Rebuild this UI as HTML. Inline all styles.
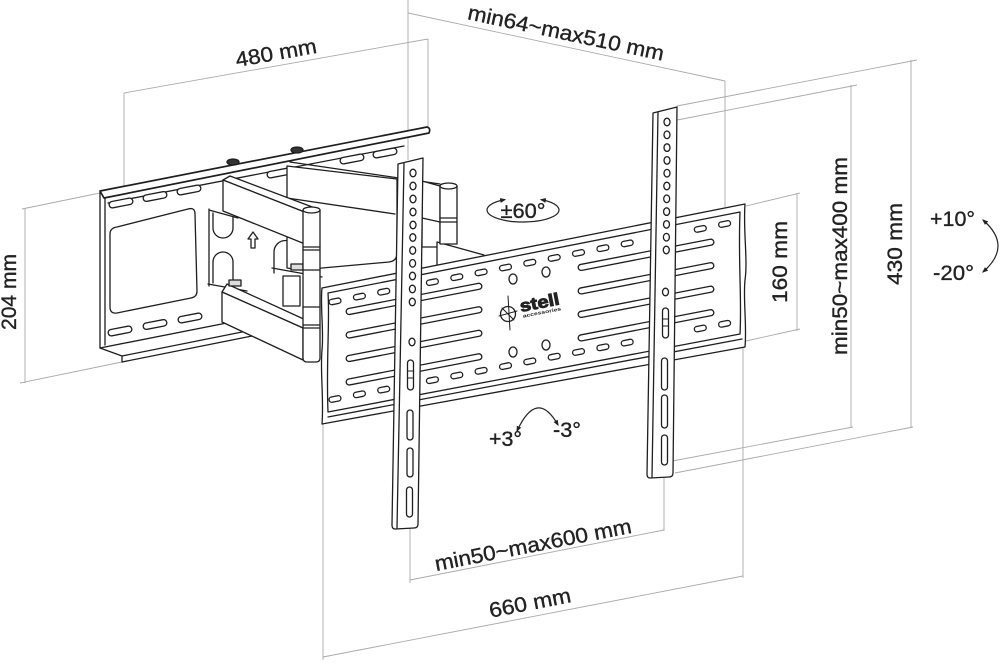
<!DOCTYPE html>
<html><head><meta charset="utf-8"><style>
html,body{margin:0;padding:0;background:#fff;}
svg{display:block;}
text{font-family:"Liberation Sans",Arial,sans-serif;fill:#222;}
</style></head><body>
<svg width="1000" height="664" viewBox="0 0 1000 664" xmlns="http://www.w3.org/2000/svg">
<defs>
<marker id="ah" viewBox="0 0 10 10" refX="8" refY="5" markerWidth="5" markerHeight="5" orient="auto-start-reverse"><path d="M0,1 L10,5 L0,9 Z" fill="#222"/></marker>
</defs>
<rect width="1000" height="664" fill="#fff"/>

<!-- dimension lines -->
<g stroke="#aaaaaa" stroke-width="0.9" fill="none">
<path d="M22,209 L100,193 M25,209 L25,383 M20,383 L122,362"/>
<path d="M124,93 L428,39 M124,93 L124,190 M428,39 L428,128"/>
<path d="M408,0 L408,160 M408,13 L725,81 M725,81 L725,207"/>
<path d="M746,206 L800,193 M797,193 L797,331 M746,341 L800,329"/>
<path d="M672,121 L857,85 M851,85 L851,428 M667,462 L853,427"/>
<path d="M677,106 L917,60 M911,60 L911,428 M675,473 L913,427"/>
<path d="M410,528 L410,583 M664,478 L664,531 M410,580 L664,530"/>
<path d="M323,424 L323,660 M743,347 L743,578 M323,657 L743,576"/>
</g>

<g stroke="#1e1e1e" stroke-width="1.3" fill="#fff" stroke-linejoin="round" stroke-linecap="round">
<!-- wall plate -->
<path d="M100,193 L340,147 L340,300 L100,348 Z" stroke="none"/>
<path d="M100,192 L100,348 M105,197 L105,345" fill="none"/>
<path d="M100,348 L252,318 L252,336 L122,362 L122,356 Z"/>
<path d="M122,356 L252,330" fill="none"/>
<path d="M108,203 L404,146" fill="none"/>
<path d="M100,191 L427,127 Q431,128 429,133 L104,198 Z" stroke-width="1.7"/>
<path d="M117,227 L188,209 Q195,207 195,214 L197,291 Q197,297 191,298 L117,313 Q110,314 110,307 L110,234 Q110,228 117,227 Z"/>
<g>
<rect x="-12" y="-3.2" width="24" height="6.4" rx="3.2" transform="translate(121,203) rotate(-11)"/>
<rect x="-12" y="-3.2" width="24" height="6.4" rx="3.2" transform="translate(155,196.5) rotate(-11)"/>
<rect x="-12" y="-3.2" width="24" height="6.4" rx="3.2" transform="translate(189,190) rotate(-11)"/>
<rect x="-12" y="-3.2" width="24" height="6.4" rx="3.2" transform="translate(279,173) rotate(-11)"/>
<rect x="-12" y="-3.2" width="24" height="6.4" rx="3.2" transform="translate(352,159) rotate(-11)"/>
<rect x="-12" y="-3.2" width="24" height="6.4" rx="3.2" transform="translate(385,153) rotate(-11)"/>
<rect x="-12" y="-3.2" width="24" height="6.4" rx="3.2" transform="translate(120,331) rotate(-11)"/>
<rect x="-12" y="-3.2" width="24" height="6.4" rx="3.2" transform="translate(155,324.5) rotate(-11)"/>
<rect x="-12" y="-3.2" width="24" height="6.4" rx="3.2" transform="translate(190,318) rotate(-11)"/>
</g>
<path d="M209,209 L209,286 M209,210 L238,218" fill="none"/>
<path d="M213,213 L213,228 A10,10 0 0 0 233,228 L233,217" fill="none"/>
<path d="M213,283 L213,262 A10,10 0 0 1 233,262 L233,287" fill="none"/>
<path d="M274,273 L274,252 A11.5,11.5 0 0 1 297,252 L297,268" fill="none"/>
<path d="M253,232 L258,239 L255,239 L255,248 L251,248 L251,239 L248,239 Z"/>
<ellipse cx="233" cy="162" rx="6" ry="3" fill="#333"/>
<ellipse cx="297" cy="150" rx="6" ry="3" fill="#333"/>

<!-- arm 2 box (behind) -->
<path d="M287,166 L397,179 L397,253 Q397,261 389,262 L300,270 L287,268 Z"/>
<path d="M290,162 L440,184 M397,181 L423,184 M287,198 L395,214" fill="none"/>
<path d="M422,181 L440,186 L440,247 L422,247 Z"/>
<path d="M422,218 L440,222" fill="none"/>
<path d="M437,242 L484,255 L484,272 L437,272 Z"/>
<rect x="440" y="186" width="17" height="58"/>
<ellipse cx="448.5" cy="186" rx="8.5" ry="3"/>
<path d="M440,218 L457,218 M440,222 L457,222" fill="none"/>

<!-- lower ledge parts -->
<path d="M272,268 L322,277" fill="none"/>
<rect x="283" y="276" width="17" height="30"/>
<path d="M291,264 L303,264 L303,270 L291,270 Z" fill="#ddd"/>
<path d="M208,284 L247,291" fill="none"/>

<!-- arm 1 upper -->
<path d="M223,180 L230,176 L315,208 L307,213 Z"/>
<path d="M223,180 L307,213 L305,244 L223,211 Z"/>
<!-- arm 1 lower -->
<path d="M222,292 L227,284 L308,321 L303,328 Z"/>
<path d="M222,292 L303,328 L303,360 L222,322 Z"/>
<path d="M229,280 L241,280 L241,286 L229,286 Z" fill="#ddd"/>
<!-- hinge 1 -->
<path d="M303,210 L320,210 L320,358 Q320,362 316,362 L307,362 Q303,362 303,358 Z"/>
<ellipse cx="311.5" cy="210" rx="8.5" ry="3"/>
<path d="M303,247 L320,247 M303,250 L320,250 M303,270 L320,270 M303,307 L320,307 M303,325 L320,325 M303,328 L320,328" fill="none"/>

<!-- TV plate -->
<path d="M322,288 L745,204 C743,230 748,260 745,280 C743,300 747,325 745,347 L322,424 C324,400 320,370 322,350 C324,330 320,305 322,288 Z"/>
<path d="M328,293 L740,212 M328,293 C330,320 326,360 328,412 M740,212 C738,260 742,300 740,334 M328,412 L740,334 M328,417 L742,339" fill="none"/>
<g>
<rect x="-6" y="-2.7" width="12" height="5.4" rx="2.7" transform="translate(335,301.4) rotate(-11)"/>
<rect x="-6" y="-2.7" width="12" height="5.4" rx="2.7" transform="translate(359.4,296.6) rotate(-11)"/>
<rect x="-6" y="-2.7" width="12" height="5.4" rx="2.7" transform="translate(383.7,291.7) rotate(-11)"/>
<rect x="-6" y="-2.7" width="12" height="5.4" rx="2.7" transform="translate(432.4,282.1) rotate(-11)"/>
<rect x="-6" y="-2.7" width="12" height="5.4" rx="2.7" transform="translate(456.8,277.2) rotate(-11)"/>
<rect x="-6" y="-2.7" width="12" height="5.4" rx="2.7" transform="translate(481.1,272.4) rotate(-11)"/>
<rect x="-6" y="-2.7" width="12" height="5.4" rx="2.7" transform="translate(505.5,267.5) rotate(-11)"/>
<rect x="-6" y="-2.7" width="12" height="5.4" rx="2.7" transform="translate(529.8,262.7) rotate(-11)"/>
<rect x="-6" y="-2.7" width="12" height="5.4" rx="2.7" transform="translate(554.2,257.9) rotate(-11)"/>
<rect x="-6" y="-2.7" width="12" height="5.4" rx="2.7" transform="translate(578.5,253) rotate(-11)"/>
<rect x="-6" y="-2.7" width="12" height="5.4" rx="2.7" transform="translate(602.9,248.2) rotate(-11)"/>
<rect x="-6" y="-2.7" width="12" height="5.4" rx="2.7" transform="translate(627.2,243.4) rotate(-11)"/>
<rect x="-6" y="-2.7" width="12" height="5.4" rx="2.7" transform="translate(700.3,228.9) rotate(-11)"/>
<rect x="-6" y="-2.7" width="12" height="5.4" rx="2.7" transform="translate(724.6,224) rotate(-11)"/>
<rect x="-6" y="-2.7" width="12" height="5.4" rx="2.7" transform="translate(335,399) rotate(-11)"/>
<rect x="-6" y="-2.7" width="12" height="5.4" rx="2.7" transform="translate(359.4,394.3) rotate(-11)"/>
<rect x="-6" y="-2.7" width="12" height="5.4" rx="2.7" transform="translate(383.7,389.6) rotate(-11)"/>
<rect x="-6" y="-2.7" width="12" height="5.4" rx="2.7" transform="translate(432.4,380.2) rotate(-11)"/>
<rect x="-6" y="-2.7" width="12" height="5.4" rx="2.7" transform="translate(456.8,375.5) rotate(-11)"/>
<rect x="-6" y="-2.7" width="12" height="5.4" rx="2.7" transform="translate(481.1,370.8) rotate(-11)"/>
<rect x="-6" y="-2.7" width="12" height="5.4" rx="2.7" transform="translate(505.5,366.1) rotate(-11)"/>
<rect x="-6" y="-2.7" width="12" height="5.4" rx="2.7" transform="translate(529.8,361.4) rotate(-11)"/>
<rect x="-6" y="-2.7" width="12" height="5.4" rx="2.7" transform="translate(554.2,356.7) rotate(-11)"/>
<rect x="-6" y="-2.7" width="12" height="5.4" rx="2.7" transform="translate(578.5,352) rotate(-11)"/>
<rect x="-6" y="-2.7" width="12" height="5.4" rx="2.7" transform="translate(602.9,347.3) rotate(-11)"/>
<rect x="-6" y="-2.7" width="12" height="5.4" rx="2.7" transform="translate(627.2,342.6) rotate(-11)"/>
<rect x="-6" y="-2.7" width="12" height="5.4" rx="2.7" transform="translate(700.3,328.5) rotate(-11)"/>
<rect x="-6" y="-2.7" width="12" height="5.4" rx="2.7" transform="translate(724.6,323.8) rotate(-11)"/>
</g>
<g>
<rect x="-69" y="-3" width="138" height="6" rx="3" transform="translate(414,298.9) rotate(-11)"/>
<rect x="-69" y="-3" width="138" height="6" rx="3" transform="translate(414,322.4) rotate(-11)"/>
<rect x="-69" y="-3" width="138" height="6" rx="3" transform="translate(414,345.9) rotate(-11)"/>
<rect x="-69" y="-3" width="138" height="6" rx="3" transform="translate(414,369.4) rotate(-11)"/>
<rect x="-69" y="-3" width="138" height="6" rx="3" transform="translate(646,254.8) rotate(-11)"/>
<rect x="-69" y="-3" width="138" height="6" rx="3" transform="translate(646,278.3) rotate(-11)"/>
<rect x="-69" y="-3" width="138" height="6" rx="3" transform="translate(646,301.8) rotate(-11)"/>
<rect x="-69" y="-3" width="138" height="6" rx="3" transform="translate(646,325.3) rotate(-11)"/>
</g>
<ellipse cx="513" cy="279" rx="4" ry="5"/>
<ellipse cx="546" cy="272" rx="4" ry="5"/>
<ellipse cx="513" cy="352" rx="4" ry="5"/>
<ellipse cx="546" cy="345" rx="4" ry="5"/>
<!-- logo -->
<circle cx="508" cy="314" r="7.5" fill="none"/>
<path d="M508,296 L510,330 M499,316 L517,311 M502,308 L514,320" fill="none" stroke-width="1"/>

<!-- left upright -->
<path d="M398,164 L423,158 L418,524 Q418,528 414,528 L395,529 Q392,529 392,525 Z"/>
<path d="M404,163 L397,528" fill="none"/>
<g>
<ellipse cx="413" cy="173" rx="3" ry="3.8"/><ellipse cx="413" cy="186" rx="3" ry="3.8"/>
<ellipse cx="413" cy="199" rx="3" ry="3.8"/><ellipse cx="413" cy="212" rx="3" ry="3.8"/>
<ellipse cx="413" cy="225" rx="3" ry="3.8"/><ellipse cx="412.8" cy="237.5" rx="3" ry="3.8"/>
<ellipse cx="412.7" cy="250.4" rx="3" ry="3.8"/><ellipse cx="412.6" cy="263.3" rx="3" ry="3.8"/>
<ellipse cx="412.5" cy="276" rx="3" ry="3.8"/><ellipse cx="412.4" cy="289" rx="3" ry="3.8"/>
<ellipse cx="412.3" cy="302" rx="3" ry="3.8"/><ellipse cx="412" cy="342" rx="3" ry="3.8"/>
<rect x="407.5" y="360" width="6" height="30" rx="3"/>
<path d="M408,371 L413,371 M408,378 L413,378" fill="none" stroke-width="0.9"/>
<rect x="407" y="410" width="6" height="30" rx="3"/>
<rect x="407" y="448" width="6" height="29" rx="3"/>
<rect x="406.5" y="487" width="6" height="30" rx="3"/>
</g>
<!-- right upright -->
<path d="M653,113 L677,107 L673,473 Q673,477 669,477 L650,478 Q647,478 647,474 Z"/>
<path d="M658,112 L652,477" fill="none"/>
<g>
<ellipse cx="667" cy="122" rx="3" ry="3.8"/><ellipse cx="667" cy="134.8" rx="3" ry="3.8"/>
<ellipse cx="667" cy="147.6" rx="3" ry="3.8"/><ellipse cx="667" cy="160.4" rx="3" ry="3.8"/>
<ellipse cx="667" cy="173.2" rx="3" ry="3.8"/><ellipse cx="666.8" cy="186" rx="3" ry="3.8"/>
<ellipse cx="666.7" cy="198.8" rx="3" ry="3.8"/><ellipse cx="666.6" cy="211.6" rx="3" ry="3.8"/>
<ellipse cx="666.5" cy="224.4" rx="3" ry="3.8"/><ellipse cx="666.4" cy="237.2" rx="3" ry="3.8"/>
<ellipse cx="666.3" cy="250" rx="3" ry="3.8"/><ellipse cx="665.5" cy="292" rx="3" ry="3.8"/>
<rect x="662.5" y="308" width="6" height="30" rx="3"/>
<path d="M663,319 L668,319 M663,326 L668,326" fill="none" stroke-width="0.9"/>
<rect x="661.5" y="358" width="6" height="32" rx="3"/>
<rect x="661.5" y="395" width="6" height="33" rx="3"/>
<rect x="661.5" y="435" width="6" height="30" rx="3"/>
</g>
</g>

<!-- logo text -->
<g transform="translate(521,312) rotate(-11)">
<text x="0" y="0" font-size="17" font-weight="bold" textLength="40" lengthAdjust="spacingAndGlyphs" fill="#fff" stroke="#222" stroke-width="0.9">stell</text>
<text x="1" y="6" font-size="5" font-weight="bold" textLength="39" lengthAdjust="spacingAndGlyphs">accessories</text>
</g>

<!-- rotation arrows -->
<g stroke="#222" stroke-width="1.2" fill="none">
<path d="M505,199.6 A36,12 0 1 0 541,199.6" marker-start="url(#ah)" marker-end="url(#ah)"/>
<path d="M517,431 Q537,388 558,425" marker-start="url(#ah)" marker-end="url(#ah)"/>
<path d="M983,220 Q1013,246 983,272" marker-start="url(#ah)" marker-end="url(#ah)"/>
</g>

<!-- labels -->
<g font-size="21" stroke="#222" stroke-width="0.35">
<text transform="translate(276,53) rotate(-10)" x="0" y="7" text-anchor="middle" textLength="82" lengthAdjust="spacingAndGlyphs">480 mm</text>
<text transform="translate(566,33) rotate(12)" x="0" y="7" text-anchor="middle" textLength="200" lengthAdjust="spacingAndGlyphs">min64~max510 mm</text>
<text transform="translate(9,292) rotate(-90)" x="0" y="7" text-anchor="middle" textLength="76" lengthAdjust="spacingAndGlyphs">204 mm</text>
<text transform="translate(780,262) rotate(-90)" x="0" y="7" text-anchor="middle" textLength="82" lengthAdjust="spacingAndGlyphs">160 mm</text>
<text transform="translate(840,256) rotate(-90)" x="0" y="7" text-anchor="middle" textLength="198" lengthAdjust="spacingAndGlyphs">min50~max400 mm</text>
<text transform="translate(895,244) rotate(-90)" x="0" y="7" text-anchor="middle" textLength="82" lengthAdjust="spacingAndGlyphs">430 mm</text>
<text transform="translate(533,545) rotate(-11)" x="0" y="7" text-anchor="middle" textLength="200" lengthAdjust="spacingAndGlyphs">min50~max600 mm</text>
<text transform="translate(530,603) rotate(-11)" x="0" y="7" text-anchor="middle" textLength="83" lengthAdjust="spacingAndGlyphs">660 mm</text>
<text x="930" y="226" textLength="45" lengthAdjust="spacingAndGlyphs">+10°</text>
<text x="933" y="280" textLength="41" lengthAdjust="spacingAndGlyphs">-20°</text>
<text x="523" y="218" text-anchor="middle" textLength="45" lengthAdjust="spacingAndGlyphs">±60°</text>
<text x="489" y="446" textLength="33" lengthAdjust="spacingAndGlyphs">+3°</text>
<text x="553" y="437" textLength="28" lengthAdjust="spacingAndGlyphs">-3°</text>
</g>
</svg>
</body></html>
